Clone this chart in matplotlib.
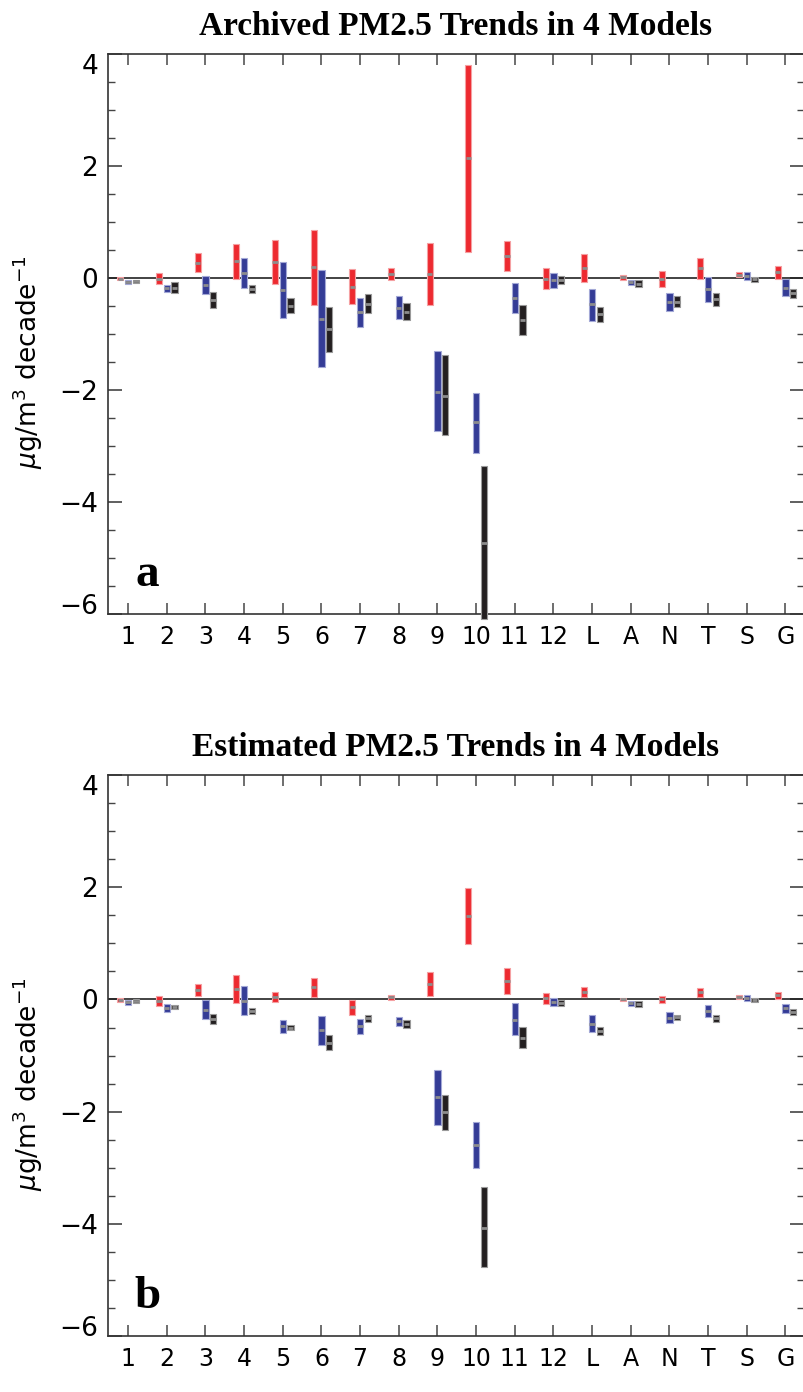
import numpy as np
import matplotlib
matplotlib.use("Agg")
import matplotlib.pyplot as plt
from matplotlib.ticker import MultipleLocator

# categories: 12 regions + L, A, N, T, S, G
categories = ['1', '2', '3', '4', '5', '6', '7', '8', '9', '10', '11', '12',
              'L', 'A', 'N', 'T', 'S', 'G']

# panel a: archived trends (low, high, central) per model
a_red_lo = [-0.04, -0.11, 0.10, -0.02, -0.11, -0.48, -0.47, -0.04, -0.49, 0.47, 0.12, -0.20,
            -0.07, -0.03, -0.16, -0.01, 0.01, -0.02]
a_red_hi = [0.01, 0.09, 0.44, 0.60, 0.67, 0.86, 0.16, 0.17, 0.63, 3.81, 0.66, 0.17,
            0.42, 0.05, 0.13, 0.36, 0.10, 0.22]
a_red_mid = [-0.02, -0.02, 0.27, 0.30, 0.29, 0.19, -0.16, 0.07, 0.07, 2.14, 0.39, -0.02,
             0.17, 0.01, -0.01, 0.18, 0.05, 0.10]
a_blue_lo = [-0.11, -0.25, -0.29, -0.17, -0.72, -1.59, -0.87, -0.74, -2.74, -3.12, -0.63, -0.18,
             -0.76, -0.13, -0.59, -0.43, -0.04, -0.33]
a_blue_hi = [-0.04, -0.12, 0.04, 0.36, 0.29, 0.14, -0.36, -0.33, -1.31, -2.05, -0.09, 0.09,
             -0.19, -0.03, -0.27, 0.02, 0.11, -0.02]
a_blue_mid = [-0.07, -0.18, -0.12, 0.09, -0.21, -0.73, -0.61, -0.54, -2.03, -2.58, -0.36, -0.04,
              -0.47, -0.08, -0.42, -0.20, 0.03, -0.17]
a_black_lo = [-0.09, -0.27, -0.54, -0.27, -0.63, -1.32, -0.63, -0.75, -2.81, -6.09, -1.02, -0.10,
              -0.79, -0.16, -0.51, -0.50, -0.07, -0.35]
a_black_hi = [-0.03, -0.08, -0.25, -0.13, -0.36, -0.52, -0.29, -0.45, -1.38, -3.36, -0.49, 0.03,
              -0.51, -0.04, -0.33, -0.27, 0.02, -0.20]
a_black_mid = [-0.06, -0.17, -0.39, -0.20, -0.50, -0.91, -0.46, -0.60, -2.10, -4.73, -0.75, -0.03,
               -0.65, -0.10, -0.42, -0.38, -0.02, -0.27]

# panel b: estimated trends
b_red_lo = [-0.04, -0.12, 0.07, -0.06, -0.05, 0.05, -0.27, -0.01, 0.06, 0.99, 0.09, -0.08,
            0.04, -0.02, -0.07, 0.05, 0.00, 0.01]
b_red_hi = [0.02, 0.07, 0.28, 0.43, 0.14, 0.39, -0.01, 0.08, 0.49, 1.98, 0.56, 0.12,
            0.23, 0.03, 0.07, 0.21, 0.08, 0.14]
b_red_mid = [-0.01, -0.02, 0.17, 0.19, 0.04, 0.23, -0.14, 0.04, 0.28, 1.48, 0.33, 0.02,
             0.14, 0.01, 0.00, 0.14, 0.04, 0.08]
b_blue_lo = [-0.09, -0.23, -0.34, -0.27, -0.59, -0.82, -0.61, -0.48, -2.23, -3.00, -0.64, -0.12,
             -0.58, -0.12, -0.42, -0.31, -0.02, -0.24]
b_blue_hi = [-0.01, -0.08, -0.01, 0.24, -0.36, -0.29, -0.34, -0.31, -1.25, -2.18, -0.07, 0.02,
             -0.28, -0.02, -0.23, -0.09, 0.08, -0.08]
b_blue_mid = [-0.05, -0.15, -0.18, -0.02, -0.47, -0.55, -0.47, -0.39, -1.73, -2.59, -0.36, -0.05,
              -0.43, -0.07, -0.33, -0.20, 0.03, -0.16]
b_black_lo = [-0.07, -0.17, -0.44, -0.26, -0.55, -0.90, -0.40, -0.50, -2.32, -4.77, -0.87, -0.12,
              -0.63, -0.14, -0.37, -0.40, -0.05, -0.28]
b_black_hi = [0.00, -0.09, -0.26, -0.15, -0.46, -0.64, -0.27, -0.36, -1.70, -3.35, -0.49, -0.01,
              -0.49, -0.02, -0.27, -0.27, 0.02, -0.17]
b_black_mid = [-0.03, -0.13, -0.34, -0.21, -0.50, -0.77, -0.33, -0.43, -2.01, -4.07, -0.68, -0.07,
               -0.56, -0.08, -0.32, -0.33, -0.01, -0.23]

titles = ['Archived PM2.5 Trends in 4 Models', 'Estimated PM2.5 Trends in 4 Models']
panel_tags = ['a', 'b']

RED = '#ED2A30'
BLUE = '#343C96'
BLACK = '#231F20'
EDGES = {RED: '#F5A0A2', BLUE: '#A3A8D6', BLACK: '#9A9A9A'}
MID = '#8C8C8C'
BAR_W = 0.16
OFFSET = 0.2


def draw_model(ax, x, lo, hi, mid, color):
    lo = np.asarray(lo)
    hi = np.asarray(hi)
    ax.bar(x, hi - lo, bottom=lo, width=BAR_W, color=color,
           edgecolor=EDGES[color], linewidth=0.8, zorder=3, clip_on=False)
    ax.hlines(mid, x - BAR_W / 2 + 0.01, x + BAR_W / 2 - 0.01, color=MID,
              linewidth=2.0, zorder=4, clip_on=False)


def draw_panel(ax, title, tag, red, blue, black):
    x = np.arange(1, len(categories) + 1)
    ax.axhline(0, color='#222222', linewidth=1.2, zorder=2)
    draw_model(ax, x - OFFSET, *red, RED)
    draw_model(ax, x, *blue, BLUE)
    draw_model(ax, x + OFFSET, *black, BLACK)

    ax.set_xlim(0.48, 18.48)
    ax.set_ylim(-6, 4)
    ax.set_xticks(x)
    ax.set_xticklabels(categories, fontsize=17, family='DejaVu Sans')
    ax.set_yticks([4, 2, 0, -2, -4, -6])
    ax.set_yticklabels(['4', '2', '0', '\u22122', '\u22124', '\u22126'], fontsize=19)
    ax.yaxis.set_minor_locator(MultipleLocator(0.5))
    ax.tick_params(axis='x', direction='in', length=8, width=1.2, color='#555555',
                   top=True, pad=8)
    ax.tick_params(axis='y', which='major', direction='in', length=10, width=1.2,
                   color='#444444', right=True, pad=7)
    ax.tick_params(axis='y', which='minor', direction='in', length=5, width=1.0,
                   color='#444444', right=True)
    labs = ax.get_yticklabels()
    labs[0].set_va('top')
    labs[-1].set_va('baseline')
    for s in ax.spines.values():
        s.set_color('#333333')
        s.set_linewidth(1.2)
    ax.set_ylabel(r'$\mu$g/m$^3$ decade$^{-1}$', fontsize=19)
    ax.yaxis.set_label_coords(-0.09, 0.45)
    ax.set_title(title, fontsize=24, fontweight='bold', family='Liberation Serif', pad=14)
    ax.text(0.057, 0.07, tag, transform=ax.transAxes, fontsize=34, fontweight='bold',
            family='Liberation Serif', ha='center', va='center')


fig = plt.figure(figsize=(8.04, 13.92), dpi=100)
ax_a = fig.add_axes([0.1343, 0.5589, 0.8657, 0.4023])
ax_b = fig.add_axes([0.1343, 0.0402, 0.8657, 0.4030])

draw_panel(ax_a, titles[0], panel_tags[0],
           (a_red_lo, a_red_hi, a_red_mid),
           (a_blue_lo, a_blue_hi, a_blue_mid),
           (a_black_lo, a_black_hi, a_black_mid))
draw_panel(ax_b, titles[1], panel_tags[1],
           (b_red_lo, b_red_hi, b_red_mid),
           (b_blue_lo, b_blue_hi, b_blue_mid),
           (b_black_lo, b_black_hi, b_black_mid))

fig.savefig('out.png', dpi=100)
